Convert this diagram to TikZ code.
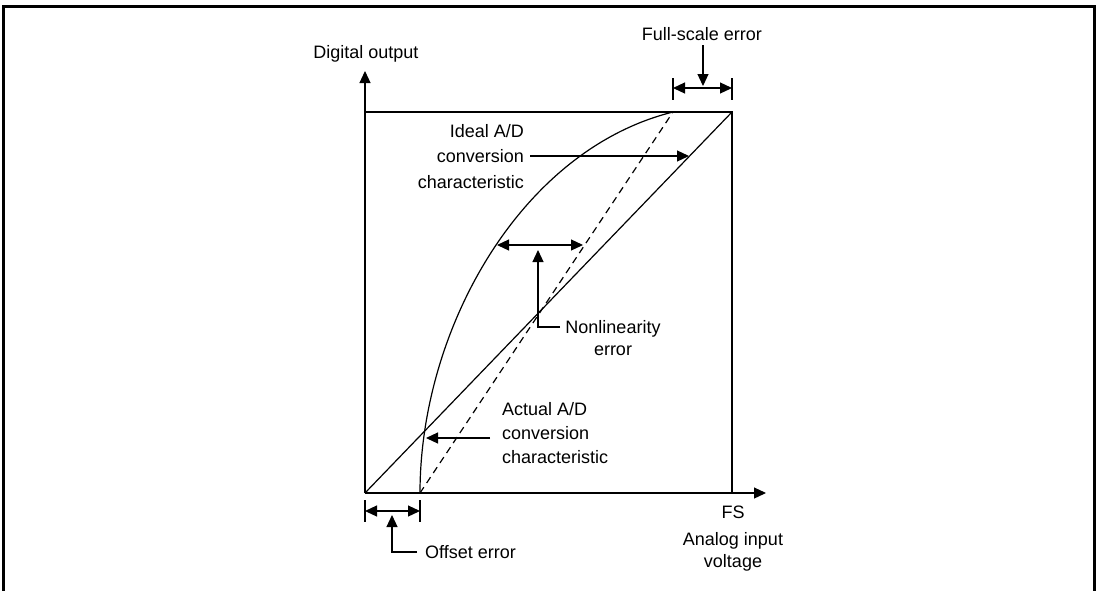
\documentclass[tikz,border=0pt]{standalone}
\usepackage{fontspec}
\setmainfont{Liberation Sans}
\usetikzlibrary{arrows.meta}
\begin{document}
\begin{tikzpicture}[x=1pt,y=-1pt,
  ln/.style={line width=1.2pt},
  arr/.style={ln,-{Triangle[length=12pt,width=11pt]}},
  darr/.style={ln,{Triangle[length=12pt,width=11pt]}-{Triangle[length=12pt,width=11pt]}},
  lbl/.style={inner sep=0pt,font=\fontsize{18}{24}\selectfont},
  dsh/.style={ln,dash pattern=on 7pt off 5pt}]
\useasboundingbox (0,0) rectangle (1096,590);
% outer frame (open at bottom)
\draw[line width=3pt] (3,595) -- (3,6) -- (1094.5,6) -- (1094.5,595);
% axes and box
\coordinate (O) at (365,493);
\coordinate (Xend) at (766,493);
\coordinate (Yend) at (365,71);
\coordinate (TL) at (365,112);
\coordinate (TR) at (732,112);
\coordinate (BR) at (732,493);
\coordinate (D0) at (420,493);
\coordinate (D1) at (673,112);
\draw[arr] (O) -- (Xend);
\draw[arr] (O) -- (Yend);
\draw[ln] (TL) -- (TR) -- (BR);
% ideal characteristic
\draw[ln] (O) -- (TR);
% dashed
\draw[dsh] (D0) -- (D1);
% actual curve
\draw[ln] (D0) .. controls (420,330) and (520,150) .. (D1);
% labels
\node[lbl,anchor=base] (dout) at (366,58) {Digital output};
\node[lbl,anchor=base] (fse) at (702,40) {Full-scale error};
\node[lbl,anchor=base] (fs) at (733,518) {FS};
\node[lbl,anchor=base,align=center,font=\fontsize{18}{22}\selectfont] (aiv) at (733,567) {Analog input\\voltage};
% full-scale error
\coordinate (f1a) at (673,78); \coordinate (f1b) at (673,100);
\coordinate (f2a) at (732,78); \coordinate (f2b) at (732,100);
\draw[ln] (f1a) -- (f1b);
\draw[ln] (f2a) -- (f2b);
\coordinate (fl) at (673,88); \coordinate (fr) at (732,88);
\draw[darr] (fl) -- (fr);
\coordinate (fdown) at (703,86);
\draw[arr] (fse.south -| fdown) ++(0,5) -- (fdown);
% ideal label
\node[lbl,anchor=base east,align=right,font=\fontsize{18}{25.5}\selectfont] (ideal) at (524,188) {Ideal A/D\\conversion\\characteristic};
\coordinate (is) at (530,156); \coordinate (it) at (689,156);
\draw[arr] (is) -- (it);
% nonlinearity
\coordinate (nl) at (497,245); \coordinate (nr) at (583,245);
\draw[darr] (nl) -- (nr);
\node[lbl,anchor=base,align=center,font=\fontsize{18}{22}\selectfont] (nonlin) at (613,355) {Nonlinearity\\error};
\coordinate (ns) at (560,327); \coordinate (nt) at (538,250);
\draw[arr] (ns) -| (nt);
% actual label
\node[lbl,anchor=base west,align=left,font=\fontsize{18}{24}\selectfont] (actual) at (502,463) {Actual A/D\\conversion\\characteristic};
\coordinate (as) at (490,438); \coordinate (at) at (426,438);
\draw[arr] (as) -- (at);
% offset error
\coordinate (o1a) at (365,500); \coordinate (o1b) at (365,522);
\coordinate (o2a) at (420,500); \coordinate (o2b) at (420,522);
\draw[ln] (o1a) -- (o1b);
\draw[ln] (o2a) -- (o2b);
\coordinate (ol) at (365,511); \coordinate (or) at (420,511);
\draw[darr] (ol) -- (or);
\node[lbl,anchor=base west] (offset) at (425,558) {Offset error};
\coordinate (os) at (417,552); \coordinate (ot) at (392,515);
\draw[arr] (os) -| (ot);
\end{tikzpicture}
\end{document}
